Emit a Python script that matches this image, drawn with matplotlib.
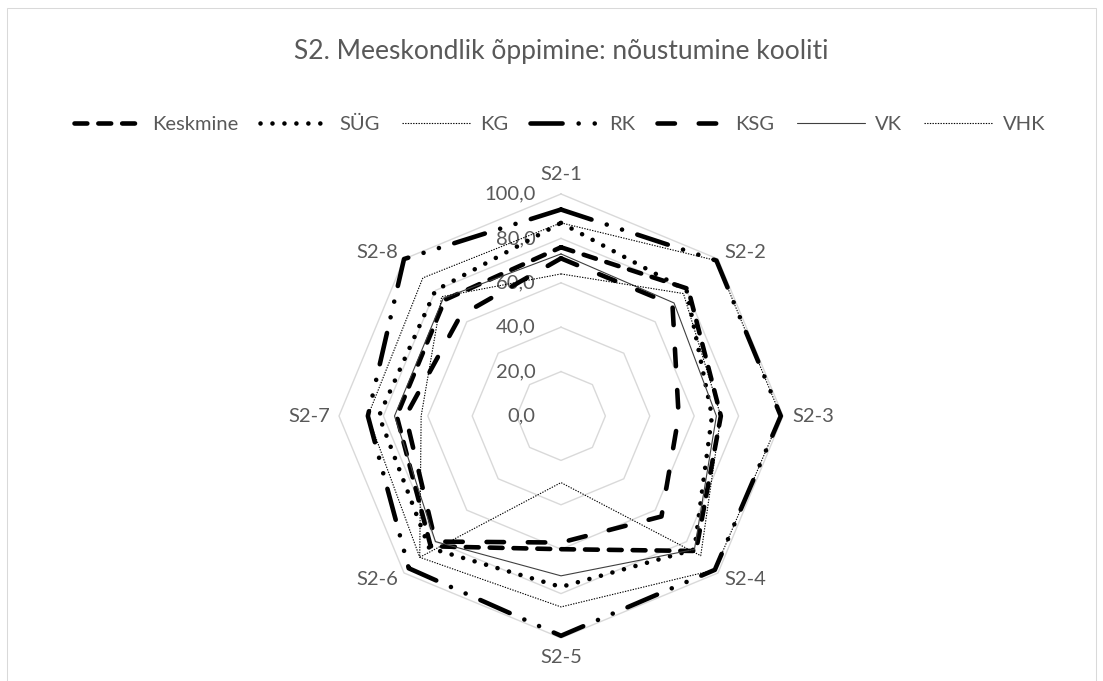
import numpy as np
import matplotlib
matplotlib.use("Agg")
import matplotlib.pyplot as plt
from matplotlib.patches import Rectangle

categories = ['S2-1', 'S2-2', 'S2-3', 'S2-4', 'S2-5', 'S2-6', 'S2-7', 'S2-8']
keskmine = [76, 81, 72, 86, 60, 83, 74, 74]
syg = [87, 80, 68, 85, 77, 84, 82, 80]
kg = [87, 99, 99, 98, 86, 90, 87, 88]
rk = [93, 99, 99, 98, 99, 97, 87, 100]
ksg = [71, 71, 53, 64, 57, 80, 70, 64]
vk = [73, 72, 70, 85, 72, 80, 75, 75]
vhk = [64, 78, 72, 89, 30, 90, 63, 76]
ticks = [0, 20, 40, 60, 80, 100]

plt.rcParams['font.family'] = ['Lato', 'DejaVu Sans']
txt = '#595959'
fs = 14.5

W, H = 1103, 681
fig = plt.figure(figsize=(W / 100, H / 100), dpi=100)
fig.patches.append(Rectangle((7 / W, -0.1), (W - 14) / W, (H - 8) / H + 0.1, transform=fig.transFigure,
                             fill=False, edgecolor='#D9D9D9', linewidth=0.75))

# axes placed so that center sits at (561, 416) px and 100 -> 222 px
scale = 2.22
cx, cy = 561, 416
xl, yl = 130, 118
ax = fig.add_axes([(cx - xl * scale) / W, (H - cy - yl * scale) / H, 2 * xl * scale / W, 2 * yl * scale / H])
ax.set_xlim(-xl, xl)
ax.set_ylim(-yl, yl)
ax.axis('off')

n = len(categories)
ang = np.arange(n) * 2 * np.pi / n


def xy(vals):
    v = np.asarray(vals, dtype=float)
    x = v * np.sin(ang)
    y = v * np.cos(ang)
    return np.append(x, x[0]), np.append(y, y[0])


# octagon grid
for t in ticks[1:]:
    gx, gy = xy([t] * n)
    ax.plot(gx, gy, color='#D9D9D9', lw=1.0, zorder=1)
for t in ticks:
    ax.text(-11.5, t, f'{t:.1f}'.replace('.', ','), ha='right', va='center', fontsize=fs, color=txt)

for i, c in enumerate(categories):
    s = np.sin(ang[i])
    if abs(s) < 0.1:
        r, ha = 109, 'center'
    else:
        r, ha = 104, ('left' if s > 0 else 'right')
    ax.text(r * s, r * np.cos(ang[i]), c, ha=ha, va='center', fontsize=fs, color=txt)

thick = 3.3
series = [
    ('Keskmine', keskmine, dict(lw=thick, dashes=(2.8, 2.4), dash_capstyle='round')),
    ('SÜG', syg, dict(lw=thick, dashes=(0.01, 2.6), dash_capstyle='round')),
    ('KG', kg, dict(lw=0.8, dashes=(1.2, 1.2))),
    ('RK', rk, dict(lw=thick, dashes=(7, 3.5, 0.01, 3.5, 0.01, 3.5), dash_capstyle='round')),
    ('KSG', ksg, dict(lw=thick, dashes=(3.8, 5.2), dash_capstyle='round')),
    ('VK', vk, dict(lw=0.8, color='#404040')),
    ('VHK', vhk, dict(lw=0.8, dashes=(1.2, 1.2))),
]
handles = []
for name, vals, st in series:
    st = dict(st)
    col = st.pop('color', 'black')
    sx, sy = xy(vals)
    h, = ax.plot(sx, sy, color=col, label=name, zorder=3, solid_capstyle='round', **st)
    handles.append(h)

fig.text(cx / W, 1 - 51 / H, 'S2. Meeskondlik õppimine: nõustumine kooliti', ha='center', va='center',
         fontsize=19, color=txt)
fig.legend(handles=handles, loc='center', bbox_to_anchor=(0.5 + 8 / W, 1 - 124 / H), ncol=7, frameon=False,
           fontsize=fs, labelcolor=txt, handlelength=3.4, handletextpad=0.5, columnspacing=1.1)

fig.savefig('out.png', dpi=100)
